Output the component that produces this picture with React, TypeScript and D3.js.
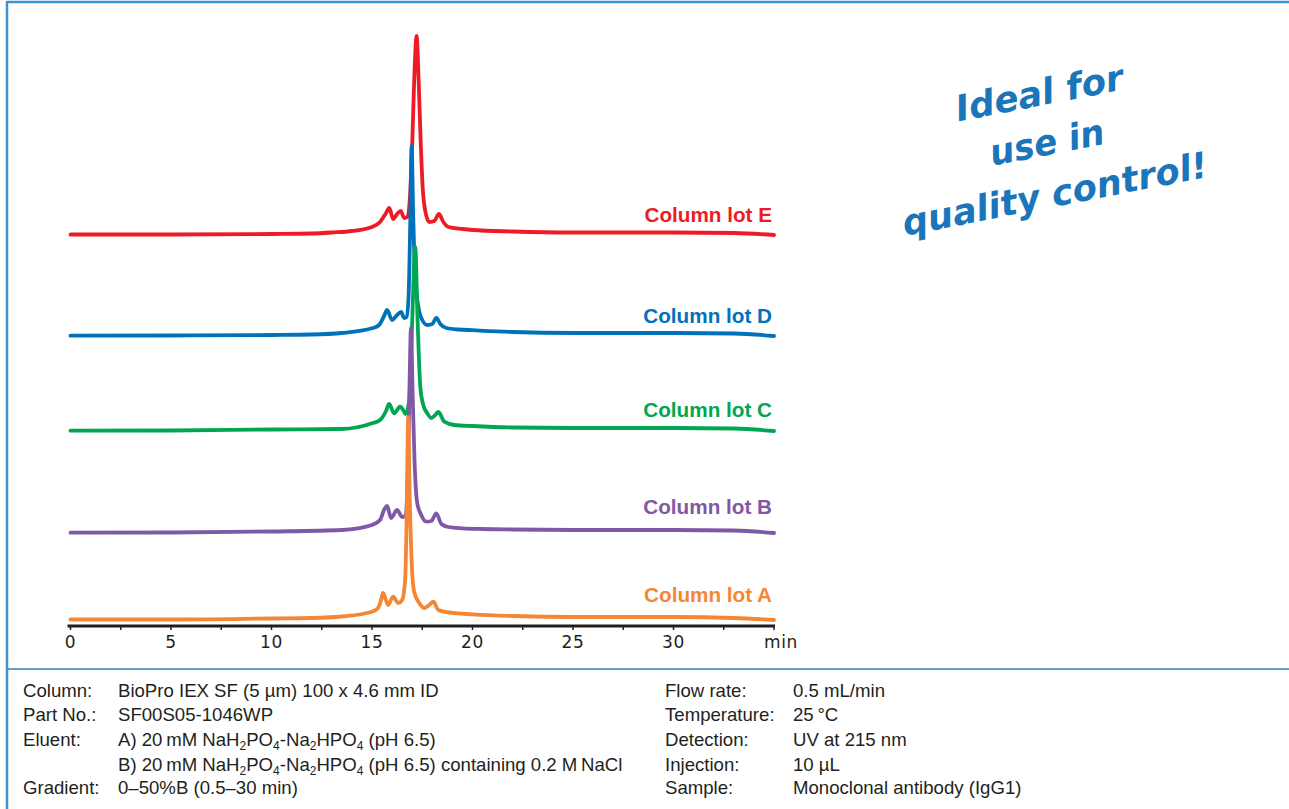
import React from "react";
import * as d3 from "d3";

// ---- Data (time in min, detector signal in arbitrary units) ----
const lotNames = ["Column lot E", "Column lot D", "Column lot C", "Column lot B", "Column lot A"];
const lotColors = ["#ed1c24", "#0072bc", "#00a651", "#7f58a6", "#f58634"];
const lotOffsets = [385, 284, 189, 87, 0];

const lotE: [number, number][] = [
  [0, 0.5], [5, 0.5], [10, 1], [12, 1.5], [13, 2.5], [14, 4], [15, 8], [15.4, 13], [15.7, 22], [15.86, 27],
  [16.05, 16], [16.25, 21], [16.43, 24], [16.6, 17], [16.75, 18], [16.9, 42], [17.0, 90], [17.1, 155],
  [17.22, 199], [17.32, 155], [17.42, 95], [17.52, 48], [17.65, 24], [17.85, 13], [18.1, 14], [18.33, 21],
  [18.55, 13], [18.8, 8], [19.5, 6], [20, 5], [22, 3.5], [25, 2.5], [30, 2.5], [33, 2], [35, 0],
];
const lotD: [number, number][] = [
  [0, 0.3], [5, 0.5], [10, 1], [12, 1.5], [13.5, 3], [15, 7.7], [15.35, 11], [15.6, 20], [15.75, 26],
  [16.0, 16], [16.25, 21], [16.45, 24], [16.6, 18], [16.72, 19], [16.82, 40], [16.9, 110], [16.97, 190],
  [17.05, 120], [17.15, 60], [17.3, 30], [17.5, 16], [17.75, 11], [18.0, 12], [18.2, 18], [18.4, 12],
  [18.7, 8], [19.3, 6.5], [20, 5.8], [22, 4], [25, 3], [30, 3], [33, 2.5], [35, 0],
];
const lotC: [number, number][] = [
  [0, 0.3], [5, 0.5], [10, 1.5], [13.5, 2], [15, 7.7], [15.4, 11], [15.7, 20], [15.85, 27], [16.1, 17.7],
  [16.4, 24.3], [16.55, 21], [16.67, 17], [16.85, 30], [17.0, 110], [17.15, 184], [17.27, 110], [17.4, 45],
  [17.55, 26], [17.75, 17.7], [17.95, 13], [18.15, 16], [18.3, 19], [18.6, 9.3], [19.1, 6], [20, 5],
  [22, 3.5], [25, 3], [30, 3], [33, 2.5], [35, 0],
];
const lotB: [number, number][] = [
  [0, 0.3], [5, 0.5], [10, 1.5], [13.5, 3], [15, 8], [15.4, 13], [15.62, 24], [15.75, 27], [15.95, 15],
  [16.25, 23], [16.5, 16], [16.65, 17], [16.78, 60], [16.86, 140], [16.94, 205], [17.02, 140], [17.12, 70],
  [17.25, 30], [17.45, 18], [17.7, 11.3], [17.95, 12], [18.2, 19.7], [18.45, 9], [18.8, 6], [19.5, 4.7],
  [20.5, 4], [22, 3.5], [25, 3], [30, 3], [33, 2.5], [35, 0],
];
const lotA: [number, number][] = [
  [0, 0.5], [5, 0.5], [10, 1.5], [12, 2], [13.5, 3.5], [15, 8.3], [15.3, 12], [15.45, 20], [15.55, 27],
  [15.8, 15], [16.05, 23.3], [16.3, 17], [16.5, 20], [16.65, 40], [16.73, 110], [16.8, 203], [16.88, 120],
  [16.98, 55], [17.1, 28], [17.35, 17], [17.6, 12], [17.85, 15], [18.05, 18.3], [18.3, 10], [18.9, 7.3],
  [20, 5.7], [22, 4], [25, 3], [30, 3], [33, 2], [35, 0],
];
const lotSeries = [lotE, lotD, lotC, lotB, lotA];

const tickValues = [0, 5, 10, 15, 20, 25, 30];
const minorTicks = [0, 2.5, 5, 7.5, 10, 12.5, 15, 17.5, 20, 22.5, 25, 27.5, 30, 32.5, 35];

const infoLeftLabels = ["Column:", "Part No.:", "Eluent:", "", "Gradient:"];
const infoRightLabels = ["Flow rate:", "Temperature:", "Detection:", "Injection:", "Sample:"];
const infoRightValues = ["0.5 mL/min", "25\u2009°C", "UV at 215 nm", "10 µL", "Monoclonal antibody (IgG1)"];
const sloganLines = ["Ideal for", "use in", "quality control!"];

const W = 1289;
const H = 809;

export default function App() {
  const x = d3.scaleLinear().domain([0, 35]).range([70.5, 774]);
  const y = d3.scaleLinear().domain([0, 600]).range([620, 20]);
  const axisY = 626;
  const rowY = [697, 721, 746, 771, 794];
  const txt = "#231f20";
  const info = { fontFamily: "'Liberation Sans', Arial, sans-serif", fontSize: 18.6, fill: txt };
  const sub = (s: string) => (
    <tspan fontSize={12} dy={4}>{s}</tspan>
  );
  const up = (s: string) => <tspan dy={-4}>{s}</tspan>;

  return (
    <svg width={W} height={H} style={{ position: "absolute", left: 0, top: 0, background: "#fff" }}>
      {/* frame */}
      <line x1={7} y1={2} x2={W} y2={2} stroke="#3f93d1" strokeWidth={2.5} />
      <line x1={7} y1={1} x2={7} y2={H} stroke="#3f93d1" strokeWidth={2.5} />
      <line x1={7} y1={669} x2={W} y2={669} stroke="#2b7fc0" strokeWidth={1.6} />

      {/* traces */}
      {lotSeries.map((s, i) => {
        const line = d3
          .line<[number, number]>()
          .x((d) => x(d[0]))
          .y((d) => y(d[1] + lotOffsets[i]))
          .curve(d3.curveMonotoneX);
        return (
          <path key={i} d={line(s) || ""} fill="none" stroke={lotColors[i]} strokeWidth={3.8}
            strokeLinejoin="round" strokeLinecap="round" />
        );
      })}

      {/* lot labels */}
      {lotNames.map((n, i) => (
        <text key={n} x={772} y={[221.5, 323.3, 416.7, 514.3, 601.7][i]} textAnchor="end"
          fontFamily="'Liberation Sans', Arial, sans-serif" fontWeight="bold" fontSize={20.7}
          fill={lotColors[i]}>{n}</text>
      ))}

      {/* axis */}
      <line x1={x(0) - 3} x2={x(35) + 1} y1={axisY} y2={axisY} stroke={txt} strokeWidth={3} />
      {minorTicks.map((t) => (
        <line key={t} x1={x(t)} x2={x(t)} y1={axisY} y2={axisY + 4} stroke={txt} strokeWidth={1.5} />
      ))}
      {tickValues.map((t) => (
        <text key={t} x={x(t)} y={647.7} textAnchor="middle" fontFamily="'DejaVu Sans', sans-serif"
          fontSize={17} letterSpacing={0.6} fill={txt}>{t}</text>
      ))}
      <text x={781} y={647.7} textAnchor="middle" fontFamily="'DejaVu Sans', sans-serif" fontSize={17} letterSpacing={0.6} fill={txt}>min</text>

      {/* slogan */}
      <g transform="translate(1047,143) rotate(-11)" fill="#1b75bb"
        fontFamily="'DejaVu Sans', sans-serif" fontWeight="bold" fontStyle="italic">
        <text x={2} y={-38} textAnchor="middle" fontSize={36} textLength={170} lengthAdjust="spacingAndGlyphs">{sloganLines[0]}</text>
        <text x={0} y={12} textAnchor="middle" fontSize={36} textLength={116} lengthAdjust="spacingAndGlyphs">{sloganLines[1]}</text>
        <text x={-2} y={64} textAnchor="middle" fontSize={36} textLength={310} lengthAdjust="spacingAndGlyphs">{sloganLines[2]}</text>
      </g>

      {/* info block */}
      <g {...info}>
        {infoLeftLabels.map((l, i) => (
          <text key={i} x={23} y={rowY[i]}>{l}</text>
        ))}
        <text x={118} y={rowY[0]}>BioPro IEX SF (5 µm) 100 x 4.6 mm ID</text>
        <text x={118} y={rowY[1]}>SF00S05-1046WP</text>
        <text x={118} y={rowY[2]}>
          A) 20{"\u2009"}mM NaH{sub("2")}{up("PO")}{sub("4")}{up("-Na")}{sub("2")}{up("HPO")}{sub("4")}{up(" (pH 6.5)")}
        </text>
        <text x={118} y={rowY[3]}>
          B) 20{"\u2009"}mM NaH{sub("2")}{up("PO")}{sub("4")}{up("-Na")}{sub("2")}{up("HPO")}{sub("4")}{up(" (pH 6.5) containing 0.2 M\u2009NaCl")}
        </text>
        <text x={118} y={rowY[4]}>0–50%B (0.5–30 min)</text>
        {infoRightLabels.map((l, i) => (
          <text key={l} x={665} y={rowY[i]}>{l}</text>
        ))}
        {infoRightValues.map((v, i) => (
          <text key={v} x={793} y={rowY[i]}>{v}</text>
        ))}
      </g>
    </svg>
  );
}
